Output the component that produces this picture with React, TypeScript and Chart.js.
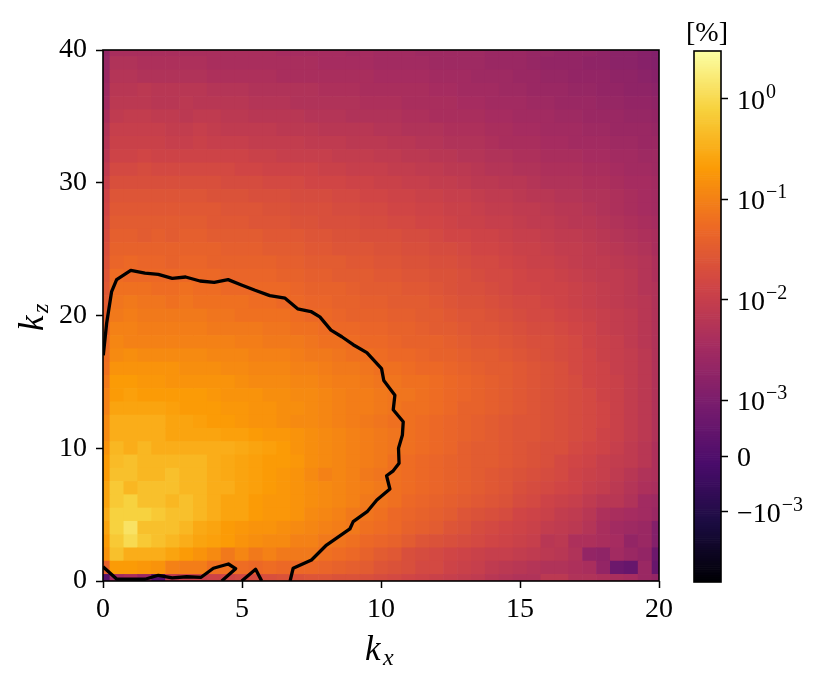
import React, { useEffect, useRef } from "react";
import { Chart, registerables } from "chart.js";

Chart.register(...registerables);

// Spectrum values: 10*log10(value in %), bottom row first, one column per half kx
const k00 = [-38, -25,-24,-26,-50,-21,-20,-19.5,-19,-18.5,-18, -17.5,-17,-16.5,-16.5,-16,-16,-16.5,-16.5,-17,-17.5, -18,-18.5,-19,-19.5,-20,-20.5,-21,-22,-22.5,-23, -23,-21.5,-21.5,-23,-23,-23.5,-24,-24.5,-26,-27];
const k01 = [-14, -7,-7,-7.5,-8,-10,-10.5,-10.5,-12,-12,-12.5, -13,-12.5,-13,-13,-13,-13.5,-14,-14.5,-15,-16, -16.5,-17,-18,-18,-19,-19.5,-20,-21,-21.5,-22, -22.5,-23,-23,-23.5,-24,-27,-32,-33,-26,-33];
const k02 = [-8, -3,-5,-5,-5,-6,-7,-8,-9,-11,-9.5, -11,-10,-11,-11,-11,-12,-12.5,-13,-14,-15, -15.5,-17,-17.5,-18,-18.5,-19,-19.5,-20,-20,-20.5, -21,-21.5,-22,-23,-27,-27.5,-25,-26,-27,-32];
const k03 = [-7, -2,0,-2,-3,-4,-5,-6,-6.5,-7,-8, -8.5,-9,-9,-10,-10,-11,-11.5,-12,-13,-13.5, -14,-15,-16,-16.5,-17,-17.5,-18,-18.5,-19,-19.5, -20,-22,-21.5,-23.5,-23.5,-24,-24.5,-27,-26,-29];
const k04 = [-6, -1,1,-3,-3,-3,-4,-5.5,-6,-7,-7.5, -8,-8,-8.5,-9,-9.5,-10,-10.5,-11,-12,-12.5, -13,-14,-14.5,-15,-16,-16.5,-17.5,-18,-18.5,-19, -19.5,-20.5,-21,-21.5,-22.5,-24,-25,-25.5,-26,-29];
const k05 = [-5, -1,-1,-1,-2,-3,-3,-4,-5,-6,-6, -7,-7.5,-7.5,-8,-9,-9.5,-10,-11,-11.5,-12, -13,-13.5,-14,-14.5,-15,-16,-16.5,-17,-17.5,-18.5, -19,-19.5,-20.5,-21,-22,-23.5,-24,-24.5,-25,-26];
const k06 = [-6, -2,-1,-3,-3,-4,-3,-4,-5,-6,-6, -7,-7.5,-7.5,-8,-8.5,-9,-9.5,-10,-11,-11.5, -12,-13,-13.5,-14,-14.5,-15,-15.5,-16,-16.5,-17.5, -18,-19,-19.5,-20,-21,-22,-22,-23,-25,-25.5];
const k07 = [-6, -2,-4,-3,-3,-3,-4,-4,-5,-5,-6, -6.5,-7,-7.5,-8,-8.5,-9,-9.5,-10,-10.5,-11, -12,-12.5,-13,-13.5,-14,-14.5,-15,-15.5,-16,-17, -17.5,-18,-18.5,-19,-20,-20.5,-21.5,-22.5,-23.5,-24];
const k08 = [-7, -3,-3,-4,-4,-3,-4,-4,-5,-5.5,-6, -6.5,-7,-7.5,-8,-9,-10,-9.5,-10,-11,-11.5, -12,-12.5,-13,-13.5,-14,-14.5,-15,-15.5,-16,-16.5, -17,-17.5,-18,-19,-19.5,-20,-21,-22,-23,-23.5];
const k09 = [-7, -3.5,-3,-4,-4,-4,-4,-4,-5,-5.5,-6, -6.5,-7,-7,-7.5,-8.5,-9,-9.5,-10,-10.5,-11, -12,-12.5,-13,-13.5,-14,-14.5,-15,-15,-15.5,-16, -16.5,-17,-18,-18.5,-19,-20,-20.5,-21,-22,-23.5];
const k10 = [-8, -4,-5,-4,-5,-5,-5,-5,-5,-5,-5.5, -6,-6.5,-7,-8,-8.5,-9,-9.5,-10,-10.5,-11, -11.5,-12,-12.5,-13,-13.5,-14.5,-15,-15,-15.5,-16, -16.5,-17,-17,-18,-18.5,-19,-20,-21,-22,-23.5];
const k11 = [-9, -5,-5,-5,-5,-6,-6,-6,-6,-6.5,-6.5, -7,-7.5,-7.5,-8,-8.5,-9,-9.5,-10,-10.5,-11, -11.5,-12,-12.5,-13,-13.5,-14,-14.5,-15,-15.5,-16, -16,-16.5,-17,-17.5,-18,-19,-19.5,-20.5,-21.5,-23];
const k12 = [-9, -5,-5,-5,-5,-6,-6,-6.5,-7,-7,-7.5, -8,-8,-8.5,-9,-9,-9.5,-10,-10.5,-11,-11.5, -12,-12,-12.5,-13,-13.5,-14,-14.5,-15,-15.5,-16, -16,-16.5,-17,-17.5,-18,-18.5,-19.5,-20.5,-21.5,-23];
const k13 = [-10, -6,-6,-6,-6,-6.5,-7,-7,-7,-7.5,-7.5, -8,-8,-8.5,-8.5,-9,-9.5,-10,-10.5,-10.5,-11, -11.5,-12,-12,-12.5,-13,-14,-14,-14.5,-15,-15.5, -16,-16.5,-17,-17.5,-18,-18.5,-19.5,-20.5,-21.5,-23];
const k14 = [-10, -7,-6.5,-7,-7,-7,-7,-7,-7.5,-8,-8, -8,-8.5,-8.5,-9,-9,-9.5,-10,-10.5,-10.5,-11, -11.5,-11.5,-12,-12.5,-13,-13.5,-14,-14.5,-15,-15.5, -16,-16.5,-17,-17.5,-18,-19,-19.5,-20.5,-21.5,-23];
const k15 = [-11, -7,-7,-7.5,-7.5,-8,-8,-8,-8,-8,-8.5, -9,-9,-9,-9.5,-9.5,-10,-10.5,-10.5,-11,-11.5, -11.5,-12,-12,-12.5,-13,-13.5,-14,-14.5,-15,-15.5, -16,-16.5,-17,-17.5,-18.5,-19,-19.5,-20.5,-21.5,-23];
const k16 = [-12, -8,-8,-8,-8,-8,-8.5,-8.5,-8.5,-9,-9, -9.5,-9.5,-9.5,-10,-10,-10.5,-11,-11,-11.5,-12, -12,-12.5,-13,-13,-13.5,-14,-14.5,-15,-15,-15.5, -16,-16.5,-17,-18,-18.5,-19,-20,-20.5,-21.5,-23];
const k17 = [-12.5, -9,-8.5,-9,-9,-9,-9,-9,-9.5,-9.5,-9.5, -10,-10,-10,-10.5,-11,-11,-11.5,-12,-12,-12.5, -13,-13,-13.5,-14,-14,-14.5,-15,-15,-15.5,-16, -16.5,-17,-17.5,-18,-18.5,-19.5,-20,-20.5,-21.5,-23];
const k18 = [-13, -9.5,-10,-10,-10,-10,-10,-10,-10,-10,-10.5, -10.5,-11,-11,-11,-11.5,-12,-12,-12.5,-13,-13, -13.5,-14,-14,-14,-14.5,-15,-15.5,-15.5,-16,-16.5, -17,-17,-17.5,-18,-19,-19.5,-20,-21,-22,-23];
const k19 = [-14, -10,-10,-10.5,-10.5,-10.5,-10.5,-10.5,-11,-11,-11, -11,-11.5,-11.5,-12,-12,-12.5,-13,-13,-13.5,-13.5, -14,-14,-14.5,-15,-15,-15.5,-16,-16,-16.5,-17, -17.5,-17.5,-18,-18.5,-19,-20,-20.5,-21,-22,-23];
const k20 = [-14.5, -11,-10.5,-11,-11,-11,-11,-11,-11.5,-11.5,-12, -12,-12,-12,-12.5,-13,-13,-13.5,-14,-14,-14, -14.5,-14.5,-15,-15,-15.5,-16,-16,-16.5,-17,-17.5, -18,-18,-18.5,-19,-19.5,-20,-20.5,-21,-22,-23];
const k21 = [-15, -11.5,-11,-11.5,-11.5,-12,-11.5,-12,-12,-12,-12, -12.5,-12.5,-13,-13,-13.5,-13.5,-14,-14,-14.5,-14.5, -15,-15,-15,-15.5,-16,-16.5,-16.5,-17,-17.5,-18, -18,-18.5,-19,-19.5,-20,-20.5,-21,-21.5,-22,-23];
const k22 = [-15.5, -12,-12,-12,-12.5,-12.5,-12,-12.5,-12.5,-13,-13, -13,-13,-13,-13.5,-14,-14,-14,-14.5,-15,-15, -15,-15.5,-15.5,-16,-16.5,-17,-17,-17.5,-18,-18.5, -18.5,-19,-19,-19.5,-20,-20.5,-21,-21.5,-22.5,-23];
const k23 = [-16, -12.5,-13,-13,-13,-13,-13,-13,-13,-13.5,-13.5, -13.5,-13.5,-14,-14,-14.5,-14.5,-15,-15,-15,-15.5, -15.5,-16,-16,-16.5,-16.5,-17,-17.5,-18,-18,-18.5, -19,-19,-19.5,-20,-20.5,-21,-21,-21.5,-22.5,-23.5];
const k24 = [-16.5, -13.5,-13,-13.5,-13.5,-14,-13.5,-13.5,-14,-14,-14, -14,-14,-14.5,-14.5,-15,-15,-15,-15.5,-15.5,-16, -16,-16.5,-16.5,-17,-17,-17.5,-18,-18,-18.5,-19, -19.5,-19.5,-20,-20.5,-21,-21,-21.5,-22,-22.5,-23.5];
const k25 = [-17, -14,-14,-14,-14,-14,-14,-14,-14,-14.5,-14.5, -14.5,-15,-15,-15,-15.5,-15.5,-16,-16,-16,-16.5, -16.5,-17,-17,-17.5,-17.5,-18,-18.5,-18.5,-19,-19.5, -19.5,-20,-20.5,-20.5,-21,-21.5,-22,-22.5,-23,-24];
const k26 = [-17.5, -14.5,-14.5,-15,-14.5,-15,-14.5,-14.5,-15,-15,-15, -15,-15.5,-15.5,-15.5,-16,-16,-16.5,-16.5,-17,-17, -17,-17.5,-17.5,-18,-18.5,-18.5,-19,-19,-19.5,-20, -20,-20.5,-21,-21,-21.5,-22,-22.5,-23,-23.5,-24];
const k27 = [-18, -15,-15,-15,-15,-15,-15,-15,-15.5,-15.5,-15.5, -16,-16,-16,-16.5,-16.5,-17,-17,-17,-17.5,-17.5, -18,-18,-18.5,-18.5,-19,-19.5,-19.5,-20,-20,-20.5, -21,-21,-21.5,-22,-22,-22.5,-23,-23.5,-24,-24.5];
const k28 = [-18.5, -15.5,-15.5,-15.5,-15.5,-15.5,-15.5,-15.5,-15.5,-16,-16, -16,-16.5,-16.5,-17,-17,-17,-17.5,-17.5,-18,-18, -18.5,-18.5,-19,-19,-19.5,-19.5,-20,-20.5,-20.5,-21, -21,-21.5,-22,-22,-22.5,-23,-23.5,-24,-24.5,-25];
const k29 = [-19, -16,-16,-16,-16,-16,-16,-16,-16.5,-16.5,-16.5, -17,-17,-17,-17.5,-17.5,-17.5,-18,-18,-18.5,-18.5, -19,-19,-19.5,-19.5,-20,-20,-20.5,-21,-21,-21.5, -22,-22,-22.5,-22.5,-23,-23,-23.5,-24,-24.5,-25];
const k30 = [-20, -17,-17,-17,-17,-17,-17,-17,-17,-17.5,-17.5, -17.5,-18,-18,-18,-18.5,-18.5,-18.5,-19,-19,-19.5, -19.5,-20,-20,-20.5,-20.5,-21,-21.5,-21.5,-22,-22, -22.5,-23,-23,-23,-23.5,-23.5,-24,-24.5,-24.5,-25];
const k31 = [-21, -18,-18,-17.5,-18,-18,-18,-18,-18,-18,-18.5, -18.5,-19,-19,-19,-19,-19.5,-19.5,-20,-20,-20, -20.5,-20.5,-21,-21,-21.5,-21.5,-22,-22.5,-22.5,-23, -23,-23.5,-23.5,-23.5,-24,-24,-24.5,-25,-25,-25.5];
const k32 = [-22, -19,-19,-18.5,-19,-19,-19,-19,-19,-19,-19, -19.5,-19.5,-20,-20,-20,-20,-20.5,-20.5,-20.5,-21, -21,-21.5,-21.5,-22,-22,-22.5,-22.5,-23,-23,-23.5, -23.5,-24,-24,-24,-24.5,-24.5,-25,-25,-25.5,-25.5];
const k33 = [-22.5, -19.5,-19.5,-19.5,-19.5,-20,-20,-19.5,-20,-20,-20, -20.5,-20.5,-20.5,-20.5,-21,-21,-21,-21.5,-21.5,-21.5, -22,-22,-22.5,-22.5,-23,-23,-23,-23.5,-24,-24, -24,-24.5,-24.5,-25,-25,-25,-25.5,-25.5,-26,-26];
const k34 = [-23, -20,-20,-20,-20,-20.5,-20.5,-20,-20.5,-21,-21, -21,-21,-21.5,-21.5,-21.5,-22,-22,-22,-22,-22.5, -22.5,-23,-23,-23,-23.5,-23.5,-23.5,-24,-24,-24.5, -24.5,-25,-25,-25,-25.5,-25.5,-26,-26,-26,-26.5];
const k35 = [-24, -21,-20.5,-20.5,-21,-21,-21.5,-21,-21,-21.5,-21.5, -22,-22,-22,-22,-22.5,-22.5,-22.5,-23,-23,-23, -23,-23.5,-23.5,-24,-24,-24,-24,-24.5,-24.5,-25, -25,-25,-25.5,-25.5,-26,-26,-26,-26.5,-26.5,-27];
const k36 = [-25, -21.5,-21.5,-21.5,-22,-22,-21.5,-22,-22,-22,-22, -22.5,-22.5,-22.5,-23,-23,-23,-23,-23,-23.5,-23.5, -23.5,-24,-24,-24,-24,-24.5,-24.5,-25,-25,-25, -25.5,-25.5,-26,-26,-26,-26.5,-26.5,-27,-27,-27.5];
const k37 = [-25.5, -22,-22,-21.5,-22,-22,-22,-22,-22.5,-22.5,-22.5, -23,-23,-23,-23,-23,-23.5,-23.5,-23.5,-24,-24, -24,-24,-24,-24.5,-24.5,-25,-25,-25,-25.5,-25.5, -26,-26,-26,-26.5,-26.5,-27,-27,-27.5,-27.5,-28];
const k38 = [-26, -22.5,-22.5,-23,-23,-23,-23,-23,-23.5,-23.5,-23.5, -23.5,-23.5,-24,-24,-24,-24,-24,-24,-24,-24.5, -24.5,-24.5,-24.5,-25,-25,-25,-25.5,-25.5,-25.5,-26, -26,-26.5,-26.5,-27,-27,-27,-27.5,-27.5,-28,-28.5];
const k39 = [-26.5, -23,-23,-23.5,-23.5,-23.5,-23.5,-23.5,-24,-24,-24, -24,-24,-24,-24,-24,-24.5,-24.5,-24.5,-24.5,-25, -25,-25,-25,-25.5,-25.5,-25.5,-25.5,-26,-26,-26, -26.5,-27,-27,-27,-27.5,-27.5,-28,-28,-28.5,-29];
const k40 = [-27, -24,-24,-24,-24,-24,-24,-24,-24,-24,-24, -24,-24,-24.5,-24.5,-24.5,-24.5,-24.5,-25,-24.5,-25, -25,-25,-25.5,-25.5,-25.5,-25.5,-25.5,-26,-26,-26, -26.5,-26.5,-27,-27,-27,-27.5,-28,-28,-28.5,-29];
const spectrumRows = [k00,k01,k02,k03,k04,k05,k06,k07,k08,k09,k10,k11,k12,k13,k14,k15,k16,k17,k18,k19,k20,k21,k22,k23,k24,k25,k26,k27,k28,k29,k30,k31,k32,k33,k34,k35,k36,k37,k38,k39,k40];

// Contour lines, as [kx, kz]
const contourMain = [[0.01,17.0],[0.13,19.4],[0.31,21.8],[0.49,22.7],[1.0,23.4],[1.51,23.2],[1.99,23.1],[2.49,22.8],[2.97,22.9],[3.49,22.6],[4.0,22.5],[4.5,22.7],[4.98,22.3],[5.47,21.9],[6.0,21.5],[6.55,21.3],[7.0,20.5],[7.48,20.3],[7.8,19.9],[8.2,18.9],[8.59,18.4],[9.0,17.8],[9.49,17.2],[10.02,16.0],[10.1,15.1],[10.5,14.0],[10.44,12.9],[10.8,12.0],[10.77,11.0],[10.63,10.0],[10.65,8.87],[10.44,8.3],[10.2,7.93],[10.32,6.93],[9.85,6.1],[9.5,5.22],[9.0,4.47],[8.88,3.92],[8.04,2.71],[7.5,1.58],[6.84,0.96],[6.73,0]];
const contourLow = [[0,1.08],[0.49,0.15],[1.51,0.13],[1.99,0.43],[2.49,0.23],[3.01,0.32],[3.53,0.28],[3.97,0.96],[4.51,1.28],[4.77,0.93],[4.27,0]];
const contourIsland = [[4.99,0],[5.49,0.88],[5.71,0]];

const xTicks = [0, 5, 10, 15, 20];
const yTicks = [0, 10, 20, 30, 40];
const colorbarTickValues = [-1e-3, 0, 1e-3, 1e-2, 1e-1, 1];
const colorbarTickBases = ["\u221210", "0", "10", "10", "10", "10"];
const colorbarTickExponents = ["\u22123", "", "\u22123", "\u22122", "\u22121", "0"];

const infernoStops = ["#000004","#1b0c41","#4a0c6b","#781c6d","#a52c60","#cf4446","#ed6925","#fb9b06","#f7d13d","#fcffa4"];

const FONT = "'Liberation Serif', serif";

function inferno(t: number): string {
  const p = Math.min(0.99999, Math.max(0, t)) * (infernoStops.length - 1);
  const i = Math.floor(p);
  const f = p - i;
  const rgb = (h: string) => [1, 3, 5].map((o) => parseInt(h.slice(o, o + 2), 16));
  const a = rgb(infernoStops[i]);
  const b = rgb(infernoStops[i + 1]);
  return `rgb(${a.map((v, n) => Math.round(v + (b[n] - v) * f)).join(",")})`;
}

// Symmetric-log position of a value on the colour bar, 0 at the bottom and 1 at the top
function symlog(v: number): number {
  const T = 1e-3;
  if (Math.abs(v) <= T) return 0.237 + (v / T) * 0.105;
  if (v > 0) return 0.342 + (Math.log10(v) + 3) * 0.1895;
  return 0.132 - (Math.log10(-v) + 3) * 0.1895;
}

const frame = {
  id: "frame",
  afterDatasetsDraw(chart: any) {
    const { ctx, chartArea: a } = chart;
    ctx.save();
    ctx.strokeStyle = "#000";
    ctx.lineWidth = 1.6;
    ctx.strokeRect(a.left, a.top, a.right - a.left, a.bottom - a.top);
    ctx.restore();
  },
};

const axisNames = {
  id: "axisNames",
  afterDraw(chart: any) {
    const { ctx } = chart;
    ctx.save();
    ctx.fillStyle = "#000";
    ctx.textBaseline = "alphabetic";
    ctx.textAlign = "left";
    ctx.font = `italic 35px ${FONT}`;
    ctx.fillText("k", 365, 660);
    ctx.font = `italic 24px ${FONT}`;
    ctx.fillText("x", 383, 665);
    ctx.translate(43, 331);
    ctx.rotate(-Math.PI / 2);
    ctx.font = `italic 35px ${FONT}`;
    ctx.fillText("k", 0, 0);
    ctx.font = `italic 24px ${FONT}`;
    ctx.fillText("z", 18, 5);
    ctx.restore();
  },
};

const colorbarText = {
  id: "colorbarText",
  afterDraw(chart: any) {
    const { ctx } = chart;
    const scale = chart.scales.y;
    ctx.save();
    ctx.fillStyle = "#000";
    ctx.textAlign = "center";
    ctx.textBaseline = "alphabetic";
    ctx.font = `28px ${FONT}`;
    ctx.fillText("[%]", 27, 41);
    ctx.textAlign = "left";
    colorbarTickValues.forEach((v, i) => {
      const y = scale.getPixelForValue(symlog(v));
      ctx.font = `28px ${FONT}`;
      ctx.fillText(colorbarTickBases[i], 57, y + 10);
      const w = ctx.measureText(colorbarTickBases[i]).width;
      ctx.font = `20px ${FONT}`;
      ctx.fillText(colorbarTickExponents[i], 57 + w + 1, y - 1);
    });
    ctx.restore();
  },
};

const axisStyle = (ticks: number[], padding: number) => ({
  type: "linear" as const,
  min: ticks[0],
  max: ticks[ticks.length - 1],
  offset: false,
  grid: { display: true, drawOnChartArea: false, drawTicks: true, tickLength: 7, tickWidth: 1.5, tickColor: "#000", offset: false },
  border: { display: false },
  afterBuildTicks: (s: any) => { s.ticks = ticks.map((value) => ({ value })); },
  ticks: { color: "#000", font: { family: FONT, size: 28 }, padding, maxRotation: 0, autoSkip: false, callback: (v: any) => String(v) },
});

export default function App() {
  const mainRef = useRef<HTMLCanvasElement>(null);
  const barRef = useRef<HTMLCanvasElement>(null);

  useEffect(() => {
    const cells = spectrumRows.map((row, kz) => ({
      type: "bar" as const,
      label: `kz ${kz}`,
      data: row.map((_, i) => ({ x: i / 2, y: [kz - 0.5, kz + 0.5] })),
      backgroundColor: row.map((db) => inferno(symlog(Math.pow(10, db / 10)))),
      borderWidth: 0,
      grouped: false,
      barPercentage: 1,
      categoryPercentage: 1,
      order: 2,
    }));
    const contour = (pts: number[][], label: string) => ({
      type: "line" as const,
      label,
      data: pts.map(([x, y]) => ({ x, y })),
      borderColor: "#000",
      borderWidth: 3.3,
      pointRadius: 0,
      tension: 0,
      fill: false,
      order: 1,
      borderJoinStyle: "round" as const,
    });
    const main = new Chart(mainRef.current!, {
      type: "bar",
      data: { datasets: [...cells, contour(contourMain, "contour"), contour(contourLow, "contour low"), contour(contourIsland, "contour island")] as any },
      options: {
        animation: false,
        responsive: false,
        layout: { padding: { left: 0, top: 50, right: 172, bottom: 0 } },
        plugins: { legend: { display: false }, tooltip: { enabled: false } },
        scales: {
          x: { ...axisStyle(xTicks, 5), afterFit: (s: any) => { s.height = 101; } },
          y: { ...axisStyle(yTicks, 9), afterFit: (s: any) => { s.width = 103; } },
        } as any,
      },
      plugins: [frame, axisNames],
    });

    const levels = Array.from({ length: 256 }, (_, k) => k);
    const bar = new Chart(barRef.current!, {
      type: "bar",
      data: {
        labels: [""],
        datasets: levels.map((k) => ({
          data: [[k / levels.length, (k + 1) / levels.length]],
          backgroundColor: inferno((k + 0.5) / levels.length),
          borderWidth: 0,
          grouped: false,
          barPercentage: 1,
          categoryPercentage: 1,
        })) as any,
      },
      options: {
        animation: false,
        responsive: false,
        layout: { padding: { left: 14, top: 51, right: 0, bottom: 100 } },
        plugins: { legend: { display: false }, tooltip: { enabled: false } },
        scales: {
          x: { display: false },
          y: {
            position: "right",
            min: 0,
            max: 1,
            grid: { display: true, drawOnChartArea: false, drawTicks: true, tickLength: 7, tickWidth: 1.5, tickColor: "#000" },
            border: { display: false },
            afterBuildTicks: (s: any) => { s.ticks = colorbarTickValues.map((v) => ({ value: symlog(v) })); },
            afterFit: (s: any) => { s.width = 110; },
            ticks: { display: false },
          },
        } as any,
      },
      plugins: [frame, colorbarText],
    });
    return () => { main.destroy(); bar.destroy(); };
  }, []);

  return (
    <div style={{ position: "absolute", left: 0, top: 0, width: 831, height: 682, background: "#fff" }}>
      <canvas ref={mainRef} width={831} height={682} style={{ position: "absolute", left: 0, top: 0, display: "block" }} />
      <canvas ref={barRef} width={151} height={682} style={{ position: "absolute", left: 680, top: 0, display: "block" }} />
    </div>
  );
}
